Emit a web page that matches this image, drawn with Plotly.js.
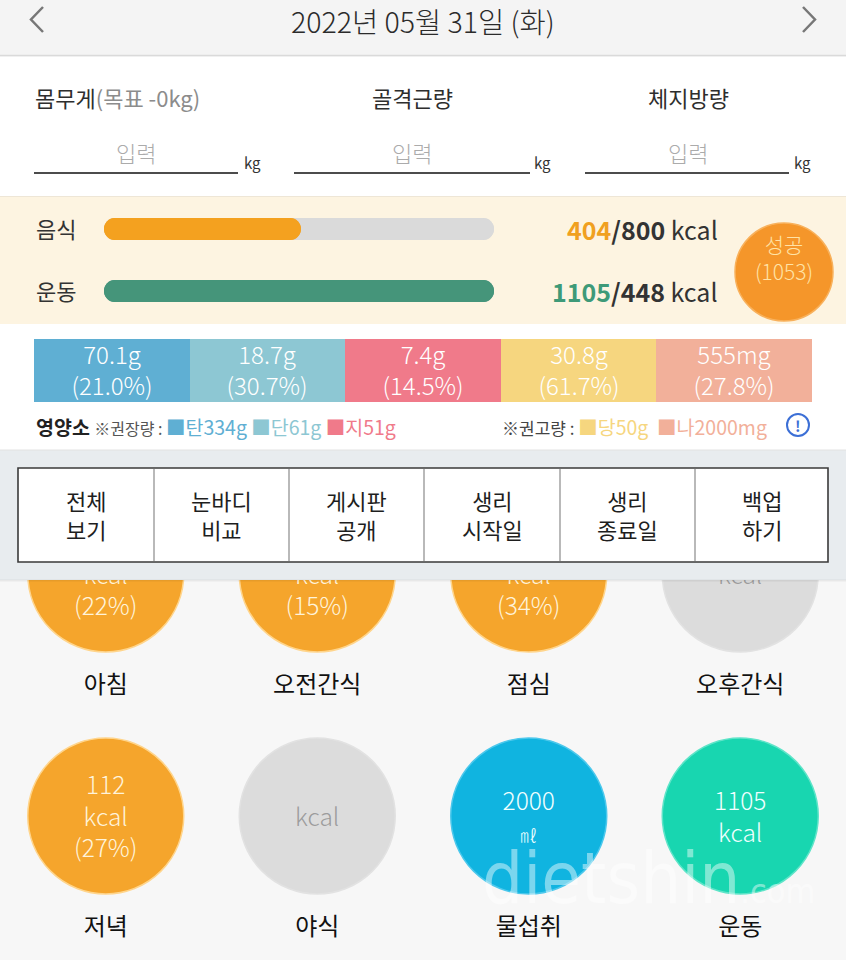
<!DOCTYPE html>
<html>
<head>
<meta charset="utf-8">
<script src="https://cdn.plot.ly/plotly-3.0.1.min.js"></script>
<style>html,body{margin:0;padding:0;background:#F7F7F7;}#chart{width:846px;height:960px;}</style>
</head>
<body>
<div id="chart"></div>
<script>
// ---------------- DATA ----------------
const dateLabel = '2022년 05월 31일 (화)';
const bodyFields = ['몸무게', '골격근량', '체지방량'];
const weightGoal = '(목표 -0kg)';

const calorieRows = ['음식', '운동'];
const calorieValues = [404, 1105];
const calorieGoals = [800, 448];
const successLabel = '성공';
const successValue = 1053;

const nutrientNames = ['탄수화물', '단백질', '지방', '당류', '나트륨'];
const nutrientShort = ['탄', '단', '지', '당', '나'];
const nutrientAmounts = ['70.1g', '18.7g', '7.4g', '30.8g', '555mg'];
const nutrientPct = [21.0, 30.7, 14.5, 61.7, 27.8];
const nutrientRef = ['334g', '61g', '51g', '50g', '2000mg'];

const buttonLabels = ['전체<br>보기', '눈바디<br>비교', '게시판<br>공개', '생리<br>시작일', '생리<br>종료일', '백업<br>하기'];

const mealNames = ['아침', '오전간식', '점심', '오후간식', '저녁', '야식', '물섭취', '운동'];
const mealValues = [null, null, null, null, 112, null, 2000, 1105];   // top-row values are hidden in the picture
const mealUnits = ['kcal', 'kcal', 'kcal', 'kcal', 'kcal', 'kcal', '㎖', 'kcal'];
const mealPct = [22, 15, 34, null, 27, null, null, null];

// ---------------- STYLE / LAYOUT ----------------
const W = 846, H = 960;
const FONT = '"Noto Sans CJK KR", "Noto Sans", sans-serif';
const nutrientColors = ['#5FAFD3', '#8DC7D3', '#F07A8A', '#F6D67F', '#F2B09A'];
const calorieColors = ['#F4A11F', '#45957A'];
const rowY = [229, 291];
const mealRowY = [574, 816];

function domY(top, bottom) { return [1 - bottom / H, 1 - top / H]; }

const traces = [];
const ratios = calorieValues.map((v, i) => Math.min(v / calorieGoals[i], 1));

// progress bars: two overlapping full-length bars grown from opposite ends -> both ends rounded
function pill(values, colors) {
  traces.push({
    type: 'bar', orientation: 'h', xaxis: 'x2', yaxis: 'y',
    x: values, base: values.map(() => 0), y: rowY, width: 22,
    marker: { color: colors, cornerradius: 11, line: { width: 0 } },
    hoverinfo: 'skip', showlegend: false
  });
  traces.push({
    type: 'bar', orientation: 'h', xaxis: 'x2', yaxis: 'y',
    x: values.map(v => -v), base: values, y: rowY, width: 22,
    marker: { color: colors, cornerradius: 11, line: { width: 0 } },
    hoverinfo: 'skip', showlegend: false
  });
}
pill(calorieRows.map(() => 1), ['#DADADA', '#DADADA']);
pill(ratios, calorieColors);

// success badge
traces.push({
  type: 'scatter', mode: 'markers', xaxis: 'x', yaxis: 'y',
  x: [784], y: [272],
  marker: { size: 98, color: '#F5962A', line: { width: 1.5, color: '#F8B15C' } },
  hoverinfo: 'skip', showlegend: false
});
traces.push({
  type: 'scatter', mode: 'text', xaxis: 'x', yaxis: 'y',
  x: [784], y: [261],
  text: [successLabel + '<br>(' + successValue + ')'], textposition: 'middle center',
  textfont: { family: FONT, size: 21, color: '#FFE3A6', weight: 300 },
  hoverinfo: 'skip', showlegend: false
});

// nutrient band
const cs = nutrientColors.map((c, i) => [i / (nutrientColors.length - 1), c]);
traces.push({
  type: 'heatmap', xaxis: 'x3', yaxis: 'y3',
  x: nutrientNames, y: ['n'], z: [nutrientNames.map((_, i) => i)],
  zmin: 0, zmax: nutrientNames.length - 1, colorscale: cs, showscale: false,
  text: [nutrientAmounts.map((a, i) => a + '<br>(' + nutrientPct[i].toFixed(1) + '%)')],
  texttemplate: '%{text}',
  textfont: { family: FONT, size: 24, color: '#FFFFFF', weight: 300 },
  xgap: 0, hoverinfo: 'skip'
});

// meal circles
const mealCol = mealNames.map((_, i) => i % 4);
const mealRow = mealNames.map((_, i) => Math.floor(i / 4));
const mealY = mealRow.map(r => mealRowY[r]);
const mealColor = mealNames.map((_, i) => {
  if (mealUnits[i] === '㎖') return '#10B4E0';
  if (i === mealNames.length - 1) return '#18D6B0';
  if (mealValues[i] === null && mealPct[i] === null) return '#DCDCDC';
  return '#F5A52C';
});
const mealLine = mealColor.map(c => c === '#F5A52C' ? '#FFD58C' : (c === '#DCDCDC' ? '#E2E2E2' : (c === '#10B4E0' ? '#4CC8EC' : '#5EE4C8')));
const mealText = mealNames.map((_, i) => {
  const u = mealUnits[i] === '㎖' ? '<span style="font-size:17px">㎖</span>' : mealUnits[i];
  let parts = [];
  if (mealValues[i] !== null) parts.push(String(mealValues[i]));
  else if (mealPct[i] !== null) parts.push('\u00a0');
  parts.push(u);
  if (mealPct[i] !== null) parts.push('(' + mealPct[i] + '%)');
  return parts.join('<br>');
});
const mealTextColor = mealColor.map(c => c === '#DCDCDC' ? '#9C9C9C' : (c === '#F5A52C' ? '#FFF3DA' : '#EFFFFF'));
traces.push({
  type: 'scatter', mode: 'markers', xaxis: 'x4', yaxis: 'y',
  x: mealCol, y: mealY,
  marker: { size: 156, color: mealColor, line: { width: 1.5, color: mealLine } },
  cliponaxis: false, hoverinfo: 'skip', showlegend: false
});
traces.push({
  type: 'scatter', mode: 'text', xaxis: 'x4', yaxis: 'y',
  x: mealCol, y: mealY.map(v => v + 3.5), text: mealText, textposition: 'middle center',
  textfont: { family: FONT, size: 24.5, color: mealTextColor, weight: 300 },
  cliponaxis: false, hoverinfo: 'skip', showlegend: false
});
traces.push({
  type: 'scatter', mode: 'text', xaxis: 'x4', yaxis: 'y',
  x: mealCol, y: mealY.map(v => v + 113), text: mealNames, textposition: 'middle center',
  textfont: { family: FONT, size: 24, color: '#111111' },
  cliponaxis: false, hoverinfo: 'skip', showlegend: false
});

// ---------------- SHAPES ----------------
const shapes = [];
function rect(x0, y0, x1, y1, fill, layer, line) {
  shapes.push({ type: 'rect', xref: 'x', yref: 'y', x0, y0, x1, y1, fillcolor: fill, layer: layer || 'below', line: line || { width: 0 } });
}
function seg(x0, y0, x1, y1, color, width, layer) {
  shapes.push({ type: 'line', xref: 'x', yref: 'y', x0, y0, x1, y1, layer: layer || 'below', line: { color, width } });
}
rect(0, 0, W, 55, '#F4F4F4');
seg(0, 55.5, W, 55.5, '#DADADA', 1.5);
rect(0, 57, W, 196, '#FFFFFF');
rect(0, 196, W, 324, '#FDF4E1');
seg(0, 196.5, W, 196.5, '#EEE6D6', 1);
rect(0, 324, W, 450, '#FFFFFF');
// chevrons
shapes.push({ type: 'path', xref: 'x', yref: 'y', path: 'M 43 7 L 31 19.5 L 43 32', line: { color: '#777', width: 2.5 }, layer: 'below' });
shapes.push({ type: 'path', xref: 'x', yref: 'y', path: 'M 803 7 L 815 19.5 L 803 32', line: { color: '#777', width: 2.5 }, layer: 'below' });
// underlines
[[34, 238], [294, 530], [585, 789]].forEach(p => seg(p[0], 173, p[1], 173, '#111', 1.6));
// info icon
shapes.push({ type: 'circle', xref: 'x', yref: 'y', x0: 787, y0: 414, x1: 809, y1: 436, line: { color: '#3C6FD6', width: 2 }, fillcolor: 'rgba(0,0,0,0)', layer: 'below' });
// panel above circles
rect(0, 450, W, 580, '#E8ECEF', 'above');
seg(0, 450, W, 450, '#E2E2E2', 1, 'above');
seg(0, 580.5, W, 580.5, 'rgba(0,0,0,0.06)', 2, 'above');
rect(18, 468, 828, 562, '#FFFFFF', 'above', { color: '#3A3A3A', width: 1.6 });
const btnEdges = [18, 154, 289, 424, 560, 695, 828];
btnEdges.slice(1, -1).forEach(x => seg(x, 469, x, 561, '#8A8A8A', 1.2, 'above'));

// ---------------- ANNOTATIONS ----------------
const ann = [];
function txt(x, y, text, size, color, xanchor, weight) {
  ann.push({ xref: 'x', yref: 'y', x, y, text, showarrow: false, xanchor: xanchor || 'center', yanchor: 'middle',
    font: { family: FONT, size, color, weight: weight || 400 } });
}
txt(423, 20, dateLabel, 28.5, '#2B2B2B', 'center', 300);
txt(33, 97, bodyFields[0] + '<span style="color:#8C8C8C">' + weightGoal + '</span>', 22, '#2E2E2E', 'left');
txt(412, 97, bodyFields[1], 22, '#2E2E2E');
txt(688, 97, bodyFields[2], 22, '#2E2E2E');
[136, 412, 688].forEach(x => txt(x, 152, '입력', 22, '#ABABAB', 'center', 300));
[252, 542, 802].forEach(x => txt(x, 162, 'kg', 15, '#333333'));

calorieRows.forEach((r, i) => {
  txt(34, rowY[i] - 1, r, 22, '#333333', 'left');
  txt(720, rowY[i], '<b><span style="color:' + (i === 0 ? '#F0A020' : '#3E9A78') + '">' + calorieValues[i] + '</span>/' + calorieGoals[i] + '</b> kcal', 25, '#333333', 'right');
});

// nutrient legend
let leftLegend = '<b>영양소</b> <span style="font-size:16px;color:#555">※권장량 : </span>';
for (let i = 0; i < 3; i++) {
  leftLegend += '<span style="color:' + nutrientColors[i] + '">■' + nutrientShort[i] + nutrientRef[i] + '</span> ';
}
txt(34, 426, leftLegend, 19.5, '#222222', 'left');
let rightLegend = '<span style="font-size:17px;color:#444">※권고량 : </span>';
for (let i = 3; i < 5; i++) {
  rightLegend += '<span style="color:' + nutrientColors[i] + '">■' + nutrientShort[i] + nutrientRef[i] + '</span>  ';
}
txt(500, 426, rightLegend, 19.5, '#444444', 'left');
txt(798, 425, '<b>!</b>', 15, '#3C6FD6');

// buttons
buttonLabels.forEach((b, i) => {
  txt((btnEdges[i] + btnEdges[i + 1]) / 2, 514, b, 22, '#1E1E1E');
});

// watermark
ann.push({ xref: 'x', yref: 'y', x: 648, y: 878, xanchor: 'center', yanchor: 'middle', showarrow: false,
  text: 'dietshin<span style="font-size:34px">.com</span>',
  font: { family: '"DejaVu Sans Condensed", "Liberation Sans Narrow", sans-serif', size: 72, color: 'rgba(255,255,255,0.45)' } });

const layout = {
  width: W, height: H, margin: { l: 0, r: 0, t: 0, b: 0 },
  paper_bgcolor: '#F7F7F7', plot_bgcolor: 'rgba(0,0,0,0)',
  showlegend: false, barmode: 'overlay',
  xaxis: { domain: [0, 1], range: [0, W], visible: false, fixedrange: true },
  yaxis: { domain: [0, 1], range: [H, 0], visible: false, fixedrange: true },
  xaxis2: { domain: [104 / W, 494 / W], range: [0, 1], visible: false, anchor: 'y', fixedrange: true },
  xaxis3: { domain: [34 / W, 812 / W], type: 'category', visible: false, anchor: 'y3', fixedrange: true },
  yaxis3: { domain: domY(339, 402), visible: false, anchor: 'x3', fixedrange: true },
  xaxis4: { domain: [0, 1], range: [-0.5, 3.5], visible: false, anchor: 'y', fixedrange: true },
  shapes: shapes, annotations: ann
};

Plotly.newPlot('chart', traces, layout, { staticPlot: true, displayModeBar: false });
</script>
</body>
</html>
